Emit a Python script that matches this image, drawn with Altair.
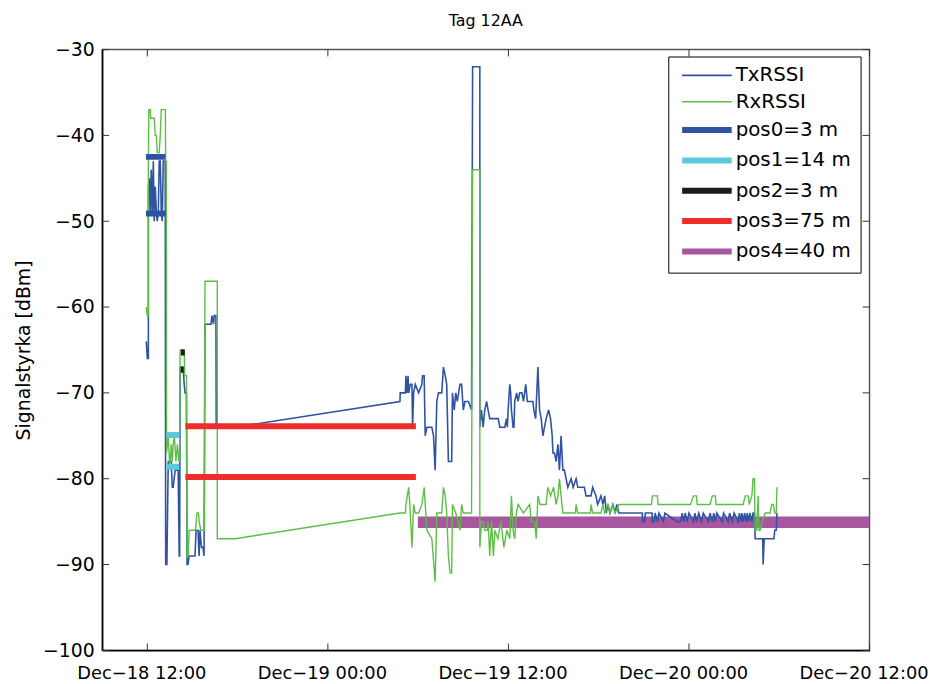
import altair as alt
import pandas as pd

FONT = "DejaVu Sans"
BASE = pd.Timestamp("2013-12-18 12:00:00")   # hours below are counted from Dec-18 12:00
START_H, END_H = -3, 48

SERIES = ["TxRSSI", "RxRSSI", "pos0=3 m", "pos1=14 m", "pos2=3 m", "pos3=75 m", "pos4=40 m"]
COLORS = ["#2f52a3", "#5cbf45", "#2f52a3", "#5bc8dc", "#1b1b1b", "#ee2d2d", "#a8569f"]
WIDTHS = [1.6, 1.4, 6, 6, 6, 6, 6]

X_TICK_HOURS = [0, 12, 24, 36, 48]
Y_TICKS = [-100, -90, -80, -70, -60, -50, -40, -30]

# (hours since Dec-18 12:00, dBm)
TX_POINTS = [
    (-0.07, -64), (0.0, -66), (0.07, -66), (0.07, -46), (0.13, -45), (0.2, -49), (0.26, -44), (0.33, -49),
    (0.4, -43), (0.46, -50), (0.53, -46), (0.6, -49), (0.66, -50), (0.73, -49), (0.79, -43), (0.86, -43),
    (0.93, -49), (0.99, -50), (1.06, -43), (1.19, -43), (1.22, -90), (1.3, -90), (1.39, -78), (1.59, -78),
    (1.66, -81), (1.72, -81), (1.85, -79), (2.05, -79), (2.12, -89), (2.15, -89), (2.18, -67), (2.38, -67),
    (2.45, -69), (2.51, -70), (2.6, -70), (2.64, -90), (2.7, -90), (2.78, -89), (3.17, -89), (3.24, -86),
    (3.37, -86), (3.44, -89), (3.5, -86), (3.6, -88), (3.7, -88), (3.77, -89), (3.83, -62), (4.23, -62),
    (4.3, -61), (4.4, -62), (4.45, -61), (4.56, -61), (4.58, -74), (5.82, -74), (16.79, -71), (16.81, -70),
    (17.15, -70), (17.19, -68), (17.26, -70), (17.33, -68), (17.37, -70), (17.48, -69), (17.59, -69),
    (17.63, -74), (17.7, -70), (17.81, -69), (18.03, -70), (18.25, -69), (18.29, -68), (18.4, -68),
    (18.47, -75), (18.58, -74), (18.91, -74), (19.02, -75), (19.13, -79), (19.24, -71), (19.35, -70),
    (19.57, -70), (19.68, -67), (19.8, -68), (19.9, -69), (20.01, -78), (20.23, -78), (20.28, -70),
    (20.4, -72), (20.5, -70), (20.6, -71), (20.78, -69), (20.89, -69), (21.0, -72), (21.11, -71),
    (21.34, -71), (21.55, -72), (21.62, -32), (22.1, -32), (22.1, -74), (22.21, -72), (22.32, -74),
    (22.43, -72), (22.55, -71), (22.65, -72), (22.76, -73), (22.88, -73), (23.32, -73), (23.43, -74),
    (23.76, -74), (23.87, -73), (23.93, -74), (23.98, -72), (24.09, -69), (24.15, -70), (24.2, -72),
    (24.31, -74), (24.37, -74), (24.42, -71), (24.55, -70), (24.64, -71), (24.75, -70), (24.9, -70),
    (25.0, -71), (25.08, -70), (25.15, -69), (25.26, -71), (25.63, -71), (25.69, -72), (25.81, -73),
    (25.96, -67), (26.07, -72), (26.18, -73), (26.29, -75), (26.4, -74), (26.51, -73), (26.67, -72),
    (26.8, -73), (26.91, -75), (26.96, -77), (27.06, -77), (27.17, -78), (27.29, -76), (27.39, -79),
    (27.5, -75), (27.62, -79), (27.72, -79), (27.83, -80), (27.95, -81), (28.17, -80), (28.3, -81),
    (28.5, -80), (28.61, -81), (29.05, -81), (29.16, -82), (29.49, -82), (29.6, -81), (29.82, -82),
    (29.93, -83), (30.15, -82), (30.28, -83), (30.4, -82), (30.5, -84), (30.61, -83), (30.75, -84),
    (30.94, -83), (31.1, -84), (31.2, -83), (31.34, -84), (32.9, -84), (32.91, -85), (33.05, -85),
    (33.1, -84), (33.55, -84), (33.57, -85), (33.7, -85), (33.75, -84), (33.9, -85), (34.0, -84),
    (34.31, -85), (34.4, -84), (35.22, -85), (35.45, -85), (35.55, -84), (35.65, -85), (35.75, -84),
    (35.88, -85), (36.0, -84), (36.3, -85), (36.4, -84), (36.5, -85), (36.65, -84), (36.83, -85),
    (36.95, -84), (37.29, -85), (37.4, -84), (37.55, -85), (37.65, -84), (37.75, -85), (37.85, -84),
    (38.2, -85), (38.3, -84), (38.61, -85), (38.7, -84), (38.88, -85), (39.0, -84), (39.27, -85),
    (39.35, -84), (39.45, -85), (39.52, -84), (39.6, -85), (39.7, -84), (39.8, -85), (39.87, -84),
    (39.95, -85), (40.05, -84), (40.18, -85), (40.26, -84), (40.35, -84), (40.4, -87), (40.9, -87),
    (40.93, -90), (41.0, -87), (41.65, -87), (41.7, -86), (41.8, -86), (41.85, -84),
]

RX_POINTS = [
    (-0.07, -60), (0.0, -61), (0.07, -61), (0.07, -44), (0.1, -37), (0.2, -37), (0.22, -38), (0.46, -38),
    (0.53, -40), (0.6, -40), (0.66, -42), (0.79, -42), (0.86, -40), (0.93, -37), (1.2, -37), (1.22, -43),
    (1.26, -43), (1.28, -77), (1.39, -75), (1.5, -79), (1.59, -76), (1.66, -78), (1.72, -76), (1.8, -75),
    (1.9, -78), (2.0, -76), (2.1, -78), (2.15, -78), (2.18, -65), (2.45, -65), (2.48, -68), (2.6, -68),
    (2.64, -89), (2.72, -89), (2.78, -86), (3.2, -86), (3.3, -84), (3.4, -84), (3.45, -85), (3.55, -86),
    (3.8, -86), (3.83, -57), (4.65, -57), (4.65, -87), (5.82, -87), (16.79, -84), (17.15, -84),
    (17.19, -83), (17.37, -81), (17.45, -83), (17.59, -88), (17.7, -83), (17.81, -84), (18.03, -84),
    (18.25, -83), (18.4, -81), (18.47, -83), (18.58, -86), (18.91, -87), (19.13, -92), (19.24, -84),
    (19.57, -84), (19.68, -81), (19.8, -82), (19.9, -84), (20.01, -89), (20.12, -91), (20.23, -91),
    (20.28, -83), (20.5, -84), (20.78, -86), (20.89, -83), (21.0, -84), (21.55, -84), (21.62, -44),
    (22.1, -44), (22.1, -88), (22.21, -85), (22.32, -85), (22.43, -86), (22.6, -86), (22.65, -85),
    (22.76, -89), (22.88, -85), (23.0, -89), (23.1, -86), (23.3, -87), (23.5, -85), (23.7, -88),
    (23.9, -86), (24.09, -87), (24.2, -82), (24.31, -86), (24.42, -87), (24.53, -84), (24.64, -83),
    (25.0, -84), (25.41, -83), (25.52, -85), (25.74, -85), (25.85, -87), (25.96, -82), (26.1, -83),
    (26.51, -83), (26.62, -81), (26.8, -82), (27.0, -81), (27.17, -83), (27.29, -82), (27.39, -80),
    (27.5, -82), (27.62, -84), (28.45, -84), (28.5, -83), (28.6, -84), (29.45, -84), (29.49, -83),
    (29.6, -84), (30.15, -84), (30.28, -83), (30.4, -84), (30.61, -83), (30.75, -84), (30.94, -83),
    (31.1, -84), (31.34, -83), (33.5, -83), (33.57, -82), (33.9, -82), (33.95, -83), (36.1, -83),
    (36.3, -82), (36.5, -82), (36.55, -83), (37.4, -83), (37.55, -82), (37.75, -82), (37.8, -83),
    (39.6, -83), (39.74, -82), (39.95, -82), (40.0, -83), (40.18, -82), (40.26, -80), (40.35, -80),
    (40.4, -86), (40.5, -86), (40.6, -82), (40.65, -86), (40.73, -86), (40.86, -85), (41.06, -84),
    (41.39, -84), (41.5, -83), (41.6, -83), (41.7, -84), (41.8, -84), (41.85, -81),
]

# (series, start hour, end hour, dBm level)
POS_SEGMENTS = [
    ("pos0=3 m", -0.09, 1.2, -42.5), ("pos0=3 m", -0.09, 1.22, -49.1),
    ("pos1=14 m", 1.28, 2.12, -74.9), ("pos1=14 m", 1.28, 2.12, -78.6),
    ("pos2=3 m", 2.23, 2.49, -65.3), ("pos2=3 m", 2.23, 2.4, -67.3),
    ("pos3=75 m", 2.53, 17.85, -73.9), ("pos3=75 m", 2.53, 17.85, -79.8),
    ("pos4=40 m", 17.98, 48.0, -84.75), ("pos4=40 m", 17.98, 48.0, -85.4),
]


def ts(h):
    return BASE + pd.Timedelta(hours=h)


def dt(h):
    t = ts(h)
    return alt.DateTime(year=t.year, month=t.month, date=t.day, hours=t.hour, minutes=t.minute)


trace_rows = []
for name, pts in (("TxRSSI", TX_POINTS), ("RxRSSI", RX_POINTS)):
    for i, (h, v) in enumerate(pts):
        trace_rows.append({"series": name, "seg": name, "i": i, "t": ts(h), "v": v})
traces = pd.DataFrame(trace_rows)

pos_rows = []
for k, (name, h0, h1, v) in enumerate(POS_SEGMENTS):
    pos_rows.append({"series": name, "seg": f"s{k}", "i": 0, "t": ts(h0), "v": v})
    pos_rows.append({"series": name, "seg": f"s{k}", "i": 1, "t": ts(h1), "v": v})
pos = pd.DataFrame(pos_rows)
pos4 = pos[pos["series"] == "pos4=40 m"]
pos03 = pos[pos["series"] != "pos4=40 m"]

legend_kw = dict(
    title=None, orient="none", legendX=571, legendY=7,
    symbolType="M-2,0H18", symbolSize=25,
    labelFont=FONT, labelFontSize=20, labelColor="black", labelOffset=39, labelLimit=0,
    labelExpr="datum.label + '\u00a0\u00a0'",
    rowPadding=6.6, padding=9, strokeColor="black", fillColor="white", cornerRadius=0,
)

x_enc = alt.X(
    "t:T",
    scale=alt.Scale(domain=[dt(START_H), dt(END_H)]),
    axis=alt.Axis(
        values=[dt(h) for h in X_TICK_HOURS], format="%b\u2212%d %H:%M",
        labelFont=FONT, labelFontSize=18, labelColor="black", tickSize=0, labelPadding=14,
        labelOffset=-6, labelFlush=False, labelOverlap=False, grid=False,
        domainColor="black", domainWidth=1.5,
    ),
    title=None,
)
y_enc = alt.Y(
    "v:Q",
    scale=alt.Scale(domain=[-100, -30], nice=False, zero=False),
    axis=alt.Axis(
        values=Y_TICKS, labelFont=FONT, labelFontSize=19, labelColor="black", tickSize=0,
        labelPadding=8, grid=False, domainColor="black", domainWidth=1.5,
        titleFont=FONT, titleFontSize=19, titleFontWeight="normal", titleColor="black", titlePadding=9,
    ),
    title="Signalstyrka [dBm]",
)
color_enc = alt.Color("series:N", scale=alt.Scale(domain=SERIES, range=COLORS), legend=alt.Legend(**legend_kw))
sw_enc = alt.StrokeWidth("series:N", scale=alt.Scale(type="ordinal", domain=SERIES, range=WIDTHS),
                         legend=alt.Legend(**legend_kw))


def lines(df):
    return alt.Chart(df).mark_line(clip=True).encode(
        x=x_enc, y=y_enc, color=color_enc, strokeWidth=sw_enc, detail="seg:N", order="i:Q"
    )


xtick_df = pd.DataFrame([
    {"t": ts(h), "v": a, "v2": b}
    for h in X_TICK_HOURS for (a, b) in ((-100, -99.2), (-30, -30.8))
])
ytick_df = pd.DataFrame(
    [{"t": ts(START_H), "t2": ts(START_H + 0.46), "v": v} for v in Y_TICKS]
    + [{"t": ts(END_H), "t2": ts(END_H - 0.46), "v": v} for v in Y_TICKS]
)
xticks = alt.Chart(xtick_df).mark_rule(color="#333", strokeWidth=1).encode(
    x=alt.X("t:T", title=None), y=alt.Y("v:Q", title="Signalstyrka [dBm]"), y2="v2:Q"
)
yticks = alt.Chart(ytick_df).mark_rule(color="#333", strokeWidth=1).encode(
    x=alt.X("t:T", title=None), x2="t2:T", y=alt.Y("v:Q", title="Signalstyrka [dBm]")
)

chart = alt.layer(lines(pos4), lines(traces), lines(pos03), xticks, yticks).properties(
    width=774, height=606,
    title="Tag 12AA",
    autosize=alt.AutoSizeParams(type="none"),
    padding={"left": 95, "top": 39, "right": 59, "bottom": 30},
).configure_view(
    stroke="#555", strokeWidth=1.5
).configure_title(
    font=FONT, fontSize=16, fontWeight="normal", color="black", offset=12, anchor="middle"
)

chart.save("out.html", embed_options={"renderer": "svg", "actions": False})
